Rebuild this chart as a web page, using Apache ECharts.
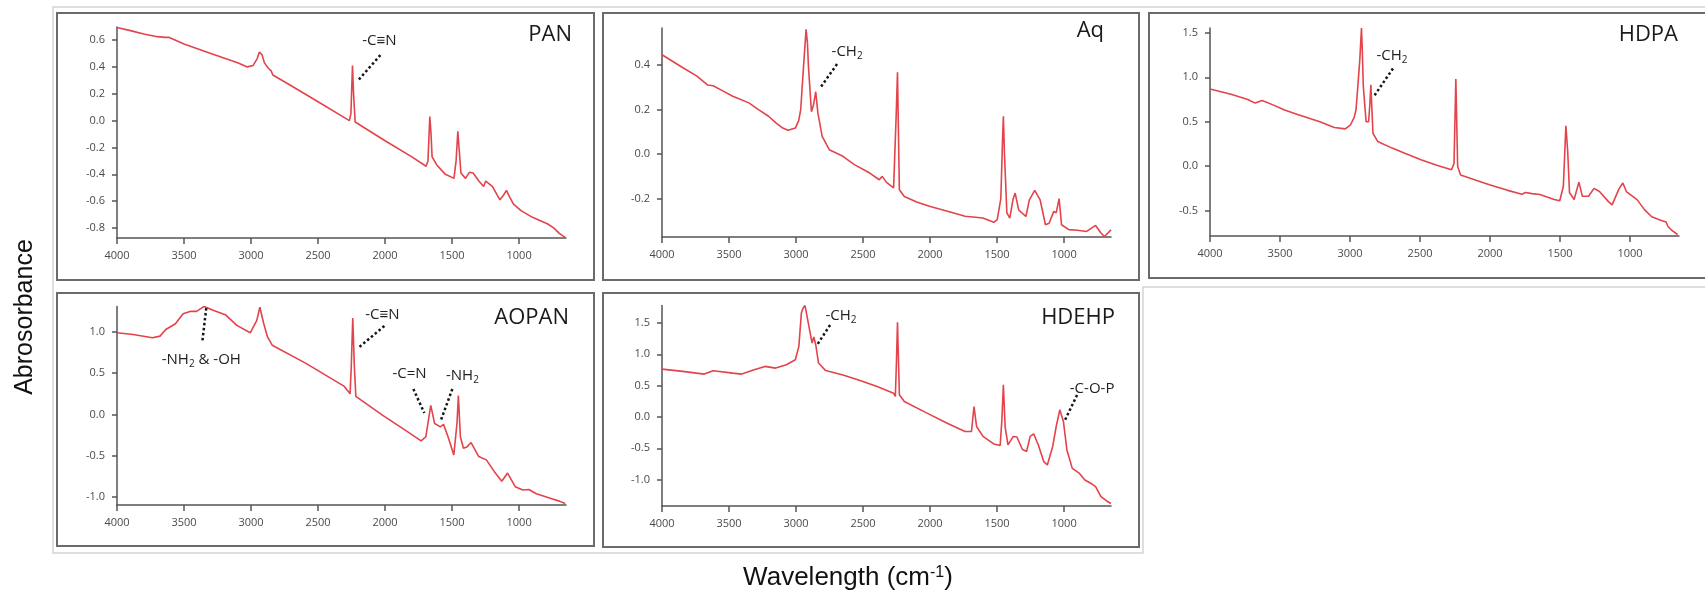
<!DOCTYPE html>
<html>
<head>
<meta charset="UTF-8">
<script src="https://cdn.jsdelivr.net/npm/echarts@6/dist/echarts.min.js"></script>
<title>FTIR spectra</title>
</head>
<body style="margin:0;background:#fff;">
<div id="main" style="width:1705px;height:594px;"></div>
<script>
// wavenumber ticks shared by all panels
var xTicks = [4000, 3500, 3000, 2500, 2000, 1500, 1000];

// spectra: [wavenumber, absorbance]
var pan = [[4000,0.694],[3900,0.67],[3800,0.645],[3700,0.625],[3640,0.62],[3614,0.62],[3500,0.57],[3300,0.50],[3100,0.43],[3027,0.40],[2985,0.41],[2955,0.46],[2937,0.51],[2918,0.49],[2900,0.43],[2871,0.39],[2850,0.37],[2837,0.34],[2700,0.26],[2500,0.14],[2300,0.02],[2266,0.0],[2255,0.05],[2243,0.41],[2235,0.2],[2223,-0.01],[2000,-0.15],[1800,-0.27],[1694,-0.34],[1680,-0.30],[1666,0.03],[1657,-0.10],[1649,-0.27],[1614,-0.33],[1550,-0.40],[1486,-0.43],[1470,-0.30],[1457,-0.08],[1448,-0.20],[1434,-0.39],[1400,-0.43],[1371,-0.385],[1343,-0.39],[1300,-0.45],[1265,-0.49],[1249,-0.45],[1200,-0.49],[1143,-0.59],[1120,-0.56],[1094,-0.52],[1070,-0.57],[1043,-0.62],[986,-0.67],[900,-0.72],[786,-0.77],[740,-0.80],[700,-0.84],[657,-0.87]];

var aq = [[4000,0.446],[3850,0.39],[3739,0.35],[3659,0.31],[3619,0.307],[3550,0.285],[3472,0.26],[3352,0.23],[3280,0.20],[3205,0.17],[3150,0.14],[3099,0.117],[3059,0.107],[3005,0.117],[2980,0.15],[2965,0.20],[2944,0.394],[2925,0.56],[2915,0.50],[2907,0.39],[2885,0.19],[2870,0.22],[2853,0.28],[2837,0.185],[2805,0.08],[2752,0.02],[2650,-0.01],[2565,-0.047],[2450,-0.085],[2379,-0.115],[2357,-0.10],[2325,-0.127],[2272,-0.152],[2253,0.17],[2243,0.367],[2229,-0.16],[2192,-0.19],[2100,-0.215],[2005,-0.234],[1850,-0.26],[1739,-0.279],[1605,-0.287],[1525,-0.306],[1499,-0.294],[1472,-0.20],[1460,0.05],[1453,0.17],[1445,0.005],[1427,-0.264],[1405,-0.287],[1380,-0.20],[1365,-0.175],[1339,-0.25],[1285,-0.28],[1259,-0.205],[1219,-0.163],[1179,-0.205],[1139,-0.317],[1112,-0.31],[1077,-0.257],[1059,-0.264],[1037,-0.20],[1019,-0.317],[965,-0.339],[900,-0.342],[832,-0.347],[765,-0.32],[725,-0.354],[699,-0.37],[650,-0.34]];

var hdpa = [[4000,0.868],[3850,0.81],[3730,0.75],[3678,0.71],[3627,0.74],[3550,0.69],[3472,0.635],[3380,0.585],[3292,0.54],[3215,0.50],[3112,0.436],[3034,0.42],[2996,0.466],[2970,0.55],[2957,0.635],[2944,0.90],[2930,1.20],[2918,1.556],[2912,1.30],[2905,0.90],[2885,0.50],[2867,0.50],[2858,0.70],[2851,0.917],[2836,0.37],[2802,0.278],[2699,0.203],[2600,0.14],[2493,0.071],[2380,0.01],[2275,-0.04],[2257,0.03],[2244,0.98],[2231,-0.004],[2210,-0.10],[2100,-0.16],[2004,-0.21],[1880,-0.27],[1772,-0.316],[1747,-0.297],[1700,-0.31],[1644,-0.32],[1541,-0.376],[1502,-0.39],[1476,-0.23],[1458,0.455],[1445,0.165],[1432,-0.30],[1399,-0.376],[1365,-0.18],[1340,-0.34],[1296,-0.34],[1257,-0.25],[1218,-0.286],[1154,-0.40],[1128,-0.436],[1077,-0.25],[1051,-0.19],[1026,-0.286],[948,-0.38],[897,-0.49],[845,-0.57],[781,-0.61],[742,-0.63],[729,-0.68],[704,-0.72],[660,-0.77]];

var aopan = [[4000,0.99],[3880,0.97],[3736,0.93],[3679,0.95],[3636,1.03],[3564,1.10],[3507,1.22],[3450,1.25],[3407,1.25],[3350,1.31],[3278,1.26],[3192,1.21],[3106,1.08],[3006,0.99],[2957,1.14],[2934,1.30],[2905,1.10],[2877,0.94],[2842,0.84],[2590,0.62],[2304,0.34],[2261,0.25],[2252,0.58],[2241,1.17],[2229,0.58],[2218,0.22],[2017,-0.01],[1850,-0.19],[1731,-0.32],[1696,-0.27],[1659,0.11],[1630,-0.11],[1587,-0.15],[1564,-0.12],[1530,-0.27],[1487,-0.49],[1473,-0.49],[1463,-0.10],[1453,0.23],[1438,-0.27],[1415,-0.41],[1387,-0.39],[1358,-0.34],[1301,-0.51],[1244,-0.55],[1186,-0.69],[1129,-0.81],[1086,-0.71],[1029,-0.875],[972,-0.915],[928,-0.91],[871,-0.96],[756,-1.02],[700,-1.05],[656,-1.08]];

var hdehp = [[4000,0.764],[3845,0.727],[3685,0.684],[3619,0.738],[3472,0.70],[3405,0.684],[3312,0.754],[3232,0.807],[3152,0.78],[3072,0.834],[3005,0.914],[2979,1.127],[2960,1.66],[2947,1.74],[2933,1.777],[2920,1.633],[2899,1.39],[2880,1.18],[2867,1.276],[2853,1.153],[2832,0.86],[2779,0.74],[2650,0.67],[2539,0.594],[2400,0.49],[2272,0.38],[2259,0.327],[2251,0.86],[2243,1.51],[2229,0.354],[2192,0.247],[2030,0.07],[1872,-0.10],[1739,-0.232],[1691,-0.232],[1672,0.167],[1653,-0.152],[1605,-0.31],[1525,-0.43],[1477,-0.456],[1464,-0.045],[1453,0.514],[1440,-0.152],[1419,-0.446],[1379,-0.31],[1352,-0.32],[1312,-0.515],[1280,-0.55],[1253,-0.31],[1227,-0.27],[1192,-0.446],[1152,-0.712],[1125,-0.765],[1085,-0.47],[1059,-0.152],[1032,0.114],[1005,-0.072],[979,-0.526],[939,-0.82],[885,-0.90],[845,-1.006],[792,-1.07],[765,-1.11],[725,-1.27],[685,-1.336],[651,-1.38]];

var names = ['PAN', 'Aq', 'HDPA', 'AOPAN', 'HDEHP'];
var spectra = [pan, aq, hdpa, aopan, hdehp];
var yTicks = [
  [-0.8, -0.6, -0.4, -0.2, 0, 0.2, 0.4, 0.6],
  [-0.2, 0, 0.2, 0.4],
  [-0.5, 0, 0.5, 1.0, 1.5],
  [-1.0, -0.5, 0, 0.5, 1.0],
  [-1.0, -0.5, 0, 0.5, 1.0, 1.5]
];
var yRange = [[-0.874, 0.697], [-0.372, 0.566], [-0.787, 1.556], [-1.097, 1.31], [-1.42, 1.78]];

// peak labels, text position and dotted leader in data coords
var notes = [
  [{t: '-C≡N', at: [2043, 0.593], from: [2035, 0.488], to: [2199, 0.302]}],
  [{t: '-CH{s|2}', at: [2619, 0.46], from: [2694, 0.404], to: [2821, 0.296]}],
  [{t: '-CH{s|2}', at: [2700, 1.247], from: [2693, 1.10], to: [2829, 0.787]}],
  [{t: '-NH{s|2} & -OH', at: [3371, 0.667], from: [3334, 1.29], to: [3363, 0.89]},
   {t: '-C≡N', at: [2020, 1.212], from: [2005, 1.073], to: [2192, 0.818]},
   {t: '-C=N', at: [1818, 0.49], from: [1789, 0.309], to: [1707, 0.018]},
   {t: '-NH{s|2}', at: [1423, 0.467], from: [1498, 0.309], to: [1588, -0.09]}],
  [{t: '-CH{s|2}', at: [2664, 1.62], from: [2746, 1.467], to: [2843, 1.148]},
   {t: '-C-O-P', at: [791, 0.447], from: [903, 0.351], to: [993, -0.048]}]
];

// layout
var grids = [
  {left: 117, top: 27, width: 449, height: 211},
  {left: 662, top: 28, width: 449, height: 209},
  {left: 1210, top: 28, width: 469, height: 208},
  {left: 117, top: 306.4, width: 449, height: 198.6},
  {left: 662, top: 305.4, width: 449, height: 200.6}
];
var titlePos = [[572, 35], [1104, 31], [1678, 35], [569, 318], [1115, 318]];
var boxes = [[57, 13, 537, 267], [603, 13, 536, 267], [1149, 13, 570, 265], [57, 293, 537, 253], [603, 293, 536, 254]];

var red = '#e3434a';
var axisGray = '#555';
var tickFont = 'Open Sans, Noto Sans, sans-serif';

var chart = echarts.init(document.getElementById('main'));

var xAxes = [], yAxes = [], series = [], graphics = [];

grids.forEach(function (g, i) {
  g.containLabel = false;
  g.outerBoundsMode = 'none';
  xAxes.push({
    gridIndex: i, type: 'value', inverse: true, min: 650, max: 4000,
    axisLine: {show: true, onZero: false, lineStyle: {color: axisGray, width: 1.5}},
    axisTick: {show: true, length: 6, customValues: xTicks, lineStyle: {color: axisGray, width: 1.5}},
    axisLabel: {customValues: xTicks, color: '#4a4a4a', fontSize: 11, margin: 12, fontFamily: tickFont,
      formatter: function (v) { return String(v); }},
    splitLine: {show: false}
  });
  yAxes.push({
    gridIndex: i, type: 'value', min: yRange[i][0], max: yRange[i][1],
    axisLine: {show: true, onZero: false, lineStyle: {color: axisGray, width: 1.5}},
    axisTick: {show: true, length: 5, customValues: yTicks[i], lineStyle: {color: axisGray, width: 1.5}},
    axisLabel: {customValues: yTicks[i], color: '#4a4a4a', fontSize: 11, margin: 12, fontFamily: tickFont,
      formatter: function (v) { return v.toFixed(1); }},
    splitLine: {show: false}
  });
  series.push({
    name: names[i], type: 'line', xAxisIndex: i, yAxisIndex: i,
    data: spectra[i], showSymbol: false, smooth: false,
    lineStyle: {color: red, width: 1.6},
    markLine: {
      silent: true, symbol: ['none', 'none'], label: {show: false},
      lineStyle: {type: [2.5, 2.5], width: 2.5, color: '#151515'},
      emphasis: {disabled: true},
      data: notes[i].map(function (n) { return [{coord: n.from}, {coord: n.to}]; })
    },
    markPoint: {
      silent: true, symbol: 'rect', symbolSize: 1,
      itemStyle: {color: 'rgba(0,0,0,0)'},
      label: {
        show: true, position: 'inside', color: '#222', fontSize: 15, fontFamily: tickFont,
        formatter: function (p) { return p.name; },
        rich: {s: {fontSize: 10, fontFamily: tickFont, color: '#222', verticalAlign: 'bottom', padding: [9, 0, 0, 0]}}
      },
      data: notes[i].map(function (n) { return {name: n.t, coord: n.at}; })
    }
  });
  graphics.push({
    type: 'rect', z: 0, silent: true,
    shape: {x: boxes[i][0], y: boxes[i][1], width: boxes[i][2], height: boxes[i][3]},
    style: {fill: 'none', stroke: '#6b6b6b', lineWidth: 2}
  });
  graphics.push({
    type: 'text', x: titlePos[i][0], y: titlePos[i][1], silent: true,
    style: {text: names[i], fill: '#1a1a1a', fontSize: 22, fontFamily: tickFont,
      align: 'right', textAlign: 'right', verticalAlign: 'middle', textVerticalAlign: 'middle'}
  });
});

// light outer frame around the panel group
graphics.push({
  type: 'polyline', z: 0, silent: true,
  shape: {points: [[1710, 7], [53, 7], [53, 553], [1143, 553], [1143, 287], [1710, 287]]},
  style: {fill: 'none', stroke: '#d4d4d4', lineWidth: 1.5}
});
graphics.push({
  type: 'text', x: 25, y: 317, rotation: Math.PI / 2, silent: true,
  style: {text: 'Abrosorbance', fill: '#111', fontSize: 25, fontFamily: 'Liberation Sans, Arial, sans-serif',
    align: 'center', textAlign: 'center', verticalAlign: 'middle', textVerticalAlign: 'middle'}
});
graphics.push({
  type: 'text', x: 848, y: 578, silent: true,
  style: {text: 'Wavelength (cm{sup|-1})', fill: '#111', fontSize: 26, fontFamily: 'Liberation Sans, Arial, sans-serif',
    align: 'center', textAlign: 'center', verticalAlign: 'middle', textVerticalAlign: 'middle',
    rich: {sup: {fontSize: 16, fontFamily: 'Liberation Sans, Arial, sans-serif', fill: '#111', verticalAlign: 'top', padding: [0, 0, 10, 0]}}}
});

chart.setOption({
  animation: false,
  backgroundColor: '#fff',
  grid: grids,
  xAxis: xAxes,
  yAxis: yAxes,
  series: series,
  graphic: graphics
});
</script>
</body>
</html>
